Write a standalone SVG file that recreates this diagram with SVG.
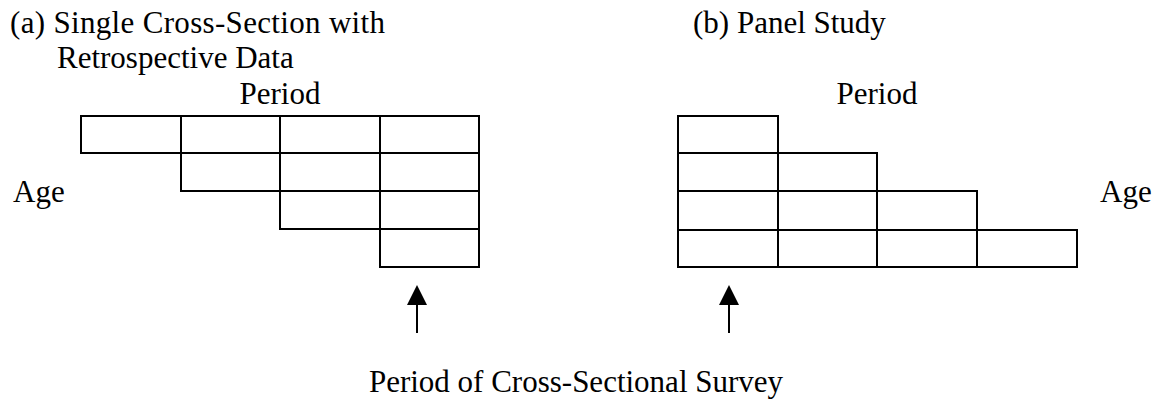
<svg xmlns="http://www.w3.org/2000/svg" width="1161" height="410" viewBox="0 0 1161 410">
<style>
.t{font-family:'Liberation Serif','Times New Roman',Times,serif;font-size:31px;fill:#000}
.c{fill:none;stroke:#000;stroke-width:2}
.ln{stroke:#000;stroke-width:2;fill:none}
</style>
<rect width="1161" height="410" fill="#fff"/>
<g id="labels" class="t" font-family="Liberation Serif, serif">
<text x="10" y="33" textLength="375" lengthAdjust="spacing">(a) Single Cross-Section with</text>
<text x="57" y="68">Retrospective Data</text>
<text x="280" y="104" text-anchor="middle">Period</text>
<text x="693" y="33">(b) Panel Study</text>
<text x="877" y="104" text-anchor="middle">Period</text>
<text x="13" y="202">Age</text>
<text x="1100" y="202">Age</text>
<text x="576" y="392" text-anchor="middle">Period of Cross-Sectional Survey</text>
</g>
<g id="grid-a">
<rect class="c" x="81" y="116" width="100" height="37"/>
<rect class="c" x="181" y="116" width="99" height="37"/>
<rect class="c" x="280" y="116" width="100" height="37"/>
<rect class="c" x="380" y="116" width="99" height="37"/>
<rect class="c" x="181" y="153" width="99" height="38"/>
<rect class="c" x="280" y="153" width="100" height="38"/>
<rect class="c" x="380" y="153" width="99" height="38"/>
<rect class="c" x="280" y="191" width="100" height="38"/>
<rect class="c" x="380" y="191" width="99" height="38"/>
<rect class="c" x="380" y="229" width="99" height="38"/>
</g>
<g id="grid-b">
<rect class="c" x="678" y="116" width="100" height="37"/>
<rect class="c" x="678" y="153" width="100" height="38"/>
<rect class="c" x="778" y="153" width="99" height="38"/>
<rect class="c" x="678" y="191" width="100" height="39"/>
<rect class="c" x="778" y="191" width="99" height="39"/>
<rect class="c" x="877" y="191" width="100" height="39"/>
<rect class="c" x="678" y="230" width="100" height="37"/>
<rect class="c" x="778" y="230" width="99" height="37"/>
<rect class="c" x="877" y="230" width="100" height="37"/>
<rect class="c" x="977" y="230" width="100" height="37"/>
</g>
<g id="connectors">
<path class="ln" d="M417 333 L417 300"/>
<path d="M417 285 L427 305 L407 305 Z" fill="#000"/>
<path class="ln" d="M729 333 L729 300"/>
<path d="M729 285 L739 305 L719 305 Z" fill="#000"/>
</g>
</svg>
